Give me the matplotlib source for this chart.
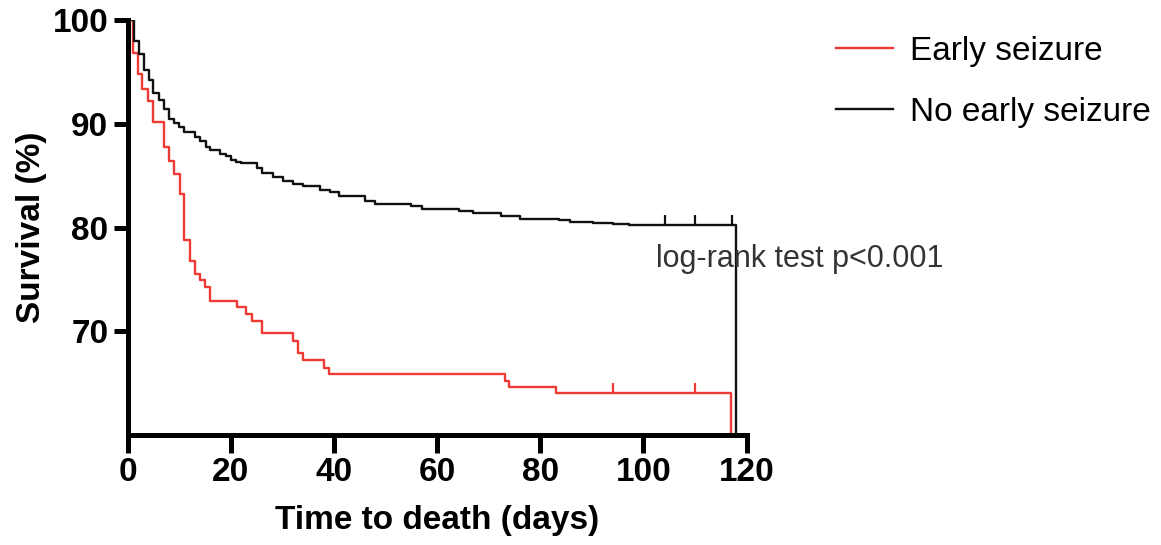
import matplotlib
matplotlib.use("Agg")
import matplotlib.pyplot as plt

plt.rcParams['font.family'] = ['Liberation Sans', 'DejaVu Sans']

# Kaplan-Meier steps (days, survival %)
early_t = [0, 1.0, 2.0, 2.8, 3.9, 4.9, 7.0, 8.0, 8.9, 10.1, 10.9, 12.0, 13.0, 14.0, 15.0,
           16.0, 21.1, 23.0, 24.1, 26.1, 32.0, 33.0, 34.0, 38.0, 39.0, 73.1, 74.0, 83.1,
           117.0, 120]
early_s = [100, 96.8, 94.8, 93.4, 92.2, 90.2, 87.8, 86.4, 85.2, 83.2, 78.8, 76.8, 75.5,
           74.9, 74.3, 72.9, 72.3, 71.7, 71.0, 69.8, 69.1, 67.9, 67.2, 66.5, 65.9, 65.2,
           64.6, 64.0, 0, 0]
early_cens_t = [94.1, 110.1]
early_cens_s = [64.0, 64.0]

none_t = [0, 1.2, 2.1, 3.1, 4.1, 5.0, 6.0, 7.0, 8.1, 9.0, 9.9, 10.9, 13.0, 14.0, 15.1,
          16.0, 17.8, 19.0, 20.0, 21.0, 22.0, 25.0, 26.1, 28.2, 30.1, 32.0, 34.0, 37.2,
          39.2, 41.0, 46.0, 48.0, 55.0, 57.0, 64.3, 67.0, 72.4, 76.0, 83.7, 85.7, 90.2,
          94.1, 97.3, 118.0, 120]
none_s = [100, 98.0, 96.7, 95.2, 94.2, 93.0, 92.3, 91.4, 90.5, 90.1, 89.7, 89.2, 88.7,
          88.3, 87.8, 87.5, 87.1, 86.9, 86.5, 86.3, 86.2, 85.7, 85.3, 84.9, 84.5, 84.2,
          84.0, 83.6, 83.4, 83.0, 82.6, 82.3, 82.1, 81.8, 81.6, 81.4, 81.1, 80.8, 80.7,
          80.5, 80.4, 80.3, 80.2, 0, 0]
none_cens_t = [104.1, 110.1, 117.2]
none_cens_s = [80.2, 80.2, 80.2]

x_ticks = [0, 20, 40, 60, 80, 100, 120]
y_ticks = [70, 80, 90, 100]

red = '#ee3a32'
black = '#111111'

fig = plt.figure(figsize=(11.61, 5.45), dpi=100)
ax = fig.add_axes([0.110, 0.202, 0.533, 0.761])

ax.step(early_t, early_s, where='post', color=red, lw=1.7, label='Early seizure')
ax.step(none_t, none_s, where='post', color=black, lw=1.7, label='No early seizure')
ax.plot(early_cens_t, early_cens_s, ls='none', marker=2, ms=7, mew=1.6, color=red)
ax.plot(none_cens_t, none_cens_s, ls='none', marker=2, ms=7, mew=1.6, color=black)

ax.set_xlim(0, 120)
ax.set_ylim(60, 100)
ax.set_xticks(x_ticks)
ax.set_yticks(y_ticks)

for s in ['top', 'right']:
    ax.spines[s].set_visible(False)
for s in ['left', 'bottom']:
    ax.spines[s].set_linewidth(3.6)
ax.tick_params(axis='both', width=3.6, labelsize=24)
ax.tick_params(axis='x', length=13, pad=3)
ax.tick_params(axis='y', length=10, pad=4)
for lab in ax.get_xticklabels() + ax.get_yticklabels():
    lab.set_fontweight('bold')

ax.set_xlabel('Time to death (days)', fontsize=24, fontweight='bold', labelpad=12)
ax.set_ylabel('Survival (%)', fontsize=24, fontweight='bold', labelpad=4)

ax.text(0.854, 0.425, 'log-rank test p<0.001', transform=ax.transAxes, fontsize=22,
        color='#333333', va='center', ha='left')

ax.legend(loc='upper left', bbox_to_anchor=(1.145, 0.963), frameon=False, fontsize=24,
          handlelength=1.7, handletextpad=0.5, labelspacing=0.9, borderaxespad=0,
          borderpad=0)

fig.savefig('out.png', dpi=100)
